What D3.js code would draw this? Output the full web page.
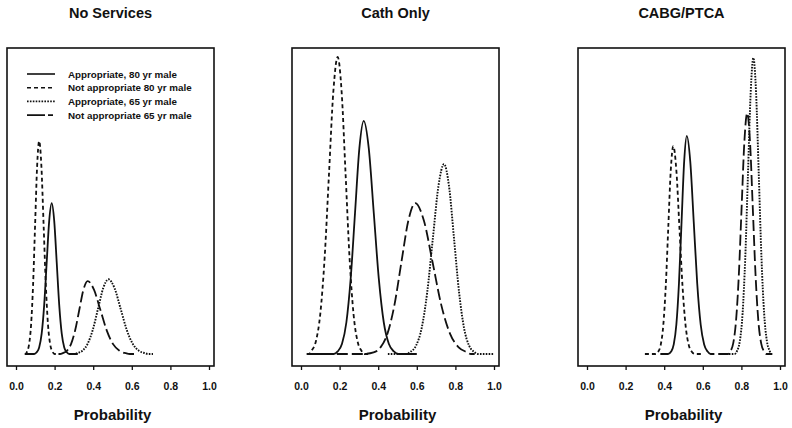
<!DOCTYPE html>
<html>
<head>
<meta charset="utf-8">
<script src="https://cdn.jsdelivr.net/npm/d3@7"></script>
<style>
  html, body { margin: 0; padding: 0; background: #fff; }
  svg { display: block; }
  text { font-family: "Liberation Sans", Arial, Helvetica, sans-serif; fill: #111; }
</style>
</head>
<body>
<div id="chart"></div>
<script>
// ---- Data ----
const panelTitles = ["No Services", "Cath Only", "CABG/PTCA"];
const seriesNames = ["Appropriate, 80 yr male", "Not appropriate 80 yr male",
                     "Appropriate, 65 yr male", "Not appropriate 65 yr male"];
const xTicks = [0.0, 0.2, 0.4, 0.6, 0.8, 1.0];
const xLabel = "Probability";

// Panel 1: No Services  [probability, density]
const noServicesApp80 = [[0.05,0],[0.094,0],[0.107,0.056],[0.12,0.22],[0.133,0.68],[0.146,1.63],[0.159,3.05],[0.172,4.44],[0.185,5.03],[0.198,4.44],[0.211,3.05],[0.224,1.63],[0.237,0.68],[0.25,0.22],[0.263,0.056],[0.276,0],[0.32,0]];
const noServicesNot80 = [[0.045,0],[0.05,0],[0.057,0.079],[0.0675,0.31],[0.078,0.96],[0.0885,2.31],[0.099,4.31],[0.1095,6.27],[0.12,7.1],[0.1315,6.27],[0.143,4.31],[0.1545,2.31],[0.166,0.96],[0.1775,0.31],[0.189,0.079],[0.2,0],[0.22,0]];
const noServicesApp65 = [[0.28,0],[0.3,0],[0.317,0.028],[0.344,0.109],[0.371,0.337],[0.398,0.809],[0.425,1.51],[0.452,2.197],[0.479,2.49],[0.5105,2.197],[0.542,1.51],[0.5735,0.809],[0.605,0.337],[0.6365,0.109],[0.668,0.028],[0.685,0],[0.71,0]];
const noServicesNot65 = [[0.22,0],[0.228,0],[0.242,0.027],[0.2635,0.107],[0.285,0.329],[0.3065,0.789],[0.328,1.474],[0.3495,2.144],[0.371,2.43],[0.404,2.144],[0.437,1.474],[0.47,0.789],[0.503,0.329],[0.536,0.107],[0.569,0.027],[0.59,0],[0.62,0]];

// Panel 2: Cath Only
const cathApp80 = [[0.08,0],[0.17,0],[0.19,0.086],[0.2125,0.341],[0.235,1.05],[0.2575,2.52],[0.28,4.71],[0.3025,6.86],[0.325,7.77],[0.351,6.86],[0.377,4.71],[0.403,2.52],[0.429,1.05],[0.455,0.341],[0.481,0.086],[0.505,0],[0.6,0]];
const cathNot80 = [[0.03,0],[0.04,0],[0.055,0.11],[0.0775,0.435],[0.10,1.34],[0.1225,3.21],[0.145,6.0],[0.1675,8.74],[0.19,9.9],[0.2105,8.74],[0.231,6.0],[0.2515,3.21],[0.272,1.34],[0.2925,0.435],[0.313,0.11],[0.33,0],[0.36,0]];
const cathApp65 = [[0.45,0],[0.545,0],[0.567,0.07],[0.596,0.278],[0.625,0.857],[0.654,2.06],[0.683,3.84],[0.712,5.59],[0.741,6.33],[0.767,5.59],[0.793,3.84],[0.819,2.06],[0.845,0.857],[0.871,0.278],[0.897,0.07],[0.915,0],[1.0,0]];
const cathNot65 = [[0.03,0],[0.32,0],[0.376,0.056],[0.412,0.22],[0.448,0.68],[0.484,1.63],[0.52,3.05],[0.556,4.44],[0.592,5.03],[0.637,4.44],[0.682,3.05],[0.727,1.63],[0.772,0.68],[0.817,0.22],[0.862,0.056],[0.88,0],[0.9,0]];

// Panel 3: CABG/PTCA
const cabgApp80 = [[0.38,0],[0.42,0],[0.436,0.081],[0.4495,0.319],[0.463,0.984],[0.4765,2.36],[0.49,4.41],[0.5035,6.42],[0.517,7.27],[0.535,6.42],[0.553,4.41],[0.571,2.36],[0.589,0.984],[0.607,0.319],[0.625,0.081],[0.64,0],[0.66,0]];
const cabgNot80 = [[0.3,0],[0.355,0],[0.369,0.077],[0.382,0.304],[0.395,0.938],[0.408,2.25],[0.421,4.2],[0.434,6.12],[0.447,6.93],[0.463,6.12],[0.479,4.2],[0.495,2.25],[0.511,0.938],[0.527,0.304],[0.543,0.077],[0.56,0],[0.6,0]];
const cabgApp65 = [[0.72,0],[0.764,0],[0.778,0.11],[0.792,0.433],[0.806,1.34],[0.82,3.2],[0.834,5.99],[0.848,8.71],[0.862,9.87],[0.876,8.71],[0.89,5.99],[0.904,3.2],[0.918,1.34],[0.932,0.433],[0.946,0.11],[0.955,0],[0.96,0]];
const cabgNot65 = [[0.68,0],[0.73,0],[0.743,0.089],[0.7575,0.353],[0.772,1.09],[0.7865,2.61],[0.801,4.87],[0.8155,7.09],[0.83,8.03],[0.8445,7.09],[0.859,4.87],[0.8735,2.61],[0.888,1.09],[0.9025,0.353],[0.917,0.089],[0.93,0],[0.96,0]];

const panelSeries = [
  [noServicesApp80, noServicesNot80, noServicesApp65, noServicesNot65],
  [cathApp80, cathNot80, cathApp65, cathNot65],
  [cabgApp80, cabgNot80, cabgApp65, cabgNot65]
];

// ---- Styles / layout ----
const dashes = [null, "4,3", "1.6,1.3", "11,4"];
const widths = [1.8, 1.8, 1.9, 1.8];
const W = 792, H = 428;
const boxLefts = [7, 292, 578];
const boxW = 207, boxTop = 48, boxBottom = 366;
const baseline = 354;

const svg = d3.select("#chart").append("svg").attr("width", W).attr("height", H);

const y = d3.scaleLinear().domain([0, 10]).range([baseline, baseline - 300]);

panelTitles.forEach((title, i) => {
  const L = boxLefts[i];
  const x = d3.scaleLinear().domain([0, 1]).range([L + 9, L + 202]);
  const g = svg.append("g");

  // title
  g.append("text")
    .attr("x", L + boxW / 2).attr("y", 18)
    .attr("text-anchor", "middle")
    .style("font-size", "14.5px").style("font-weight", "bold")
    .text(title);

  // frame
  g.append("rect")
    .attr("x", L).attr("y", boxTop)
    .attr("width", boxW).attr("height", boxBottom - boxTop)
    .attr("fill", "none").attr("stroke", "#111").attr("stroke-width", 1.6);

  // axis
  const ax = g.append("g")
    .attr("transform", `translate(0,${boxBottom})`)
    .call(d3.axisBottom(x).tickValues(xTicks).tickFormat(d3.format(".1f"))
      .tickSize(4).tickPadding(13));
  ax.select(".domain").remove();
  ax.selectAll(".tick line").attr("stroke", "#111").attr("stroke-width", 1.3);
  ax.selectAll(".tick text")
    .style("font-size", "10.5px").style("font-weight", "bold")
    .style("font-family", "'Liberation Sans', Arial, sans-serif").attr("fill", "#111");

  // x label
  g.append("text")
    .attr("x", (x(0) + x(1)) / 2).attr("y", 420)
    .attr("text-anchor", "middle")
    .style("font-size", "15px").style("font-weight", "bold")
    .text(xLabel);

  // curves
  const line = d3.line().x(d => x(d[0])).y(d => y(d[1])).curve(d3.curveMonotoneX);
  panelSeries[i].forEach((pts, s) => {
    g.append("path")
      .datum(pts)
      .attr("d", line)
      .attr("fill", "none")
      .attr("stroke", "#111")
      .attr("stroke-width", widths[s])
      .attr("stroke-dasharray", dashes[s]);
  });

  // legend in first panel
  if (i === 0) {
    const lg = g.append("g");
    seriesNames.forEach((name, s) => {
      const cy = 74 + s * 13.7;
      lg.append("line")
        .attr("x1", L + 20).attr("x2", L + 48)
        .attr("y1", cy).attr("y2", cy)
        .attr("stroke", "#111").attr("stroke-width", 1.6)
        .attr("stroke-dasharray", s === 3 ? "18,3,5" : dashes[s]);
      lg.append("text")
        .attr("x", L + 61).attr("y", cy + 3.6)
        .style("font-size", "9.8px").style("font-weight", "bold")
        .text(name);
    });
  }
});
</script>
</body>
</html>
